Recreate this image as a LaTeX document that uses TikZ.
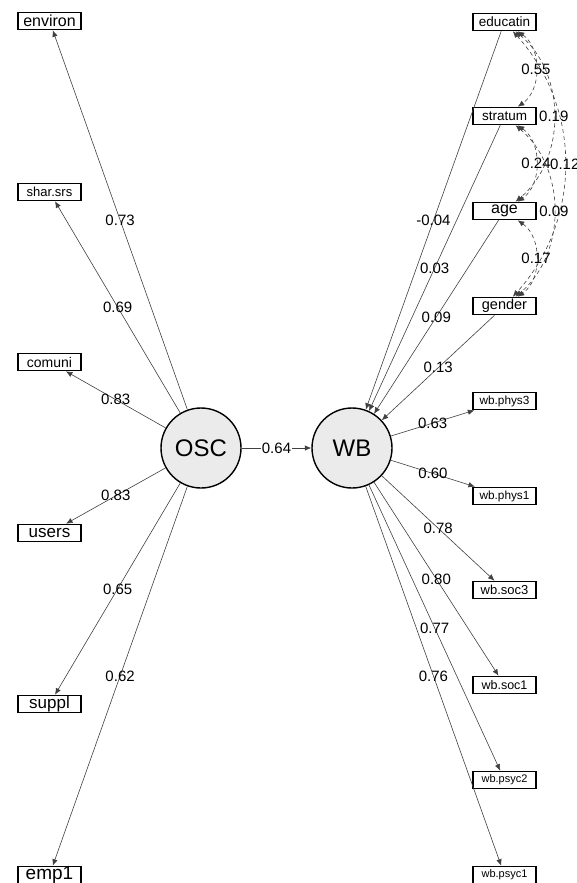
\documentclass[tikz,border=0pt]{standalone}
\usepackage{fontspec}
\setmainfont{Liberation Sans}
\usetikzlibrary{arrows.meta}
\newcommand\labsize[1]{\fontsize{#1}{#1}\selectfont}

\begin{document}
\begin{tikzpicture}[x=1pt, y=-1pt,
  manifest/.style={draw, line width=1.6pt, fill=white, minimum width=63pt, minimum height=17pt, inner sep=0pt},
  latent/.style={circle, draw, line width=1.4pt, fill=black!8, minimum size=80pt, inner sep=0pt, font=\labsize{24}},
  load/.style={draw=black!75, line width=0.6pt, -{Latex[length=6.5pt,width=5.5pt]}},
  cov/.style={draw=black!75, line width=0.6pt, dash pattern=on 4pt off 3pt, {Latex[length=6.5pt,width=5.5pt]}-{Latex[length=6.5pt,width=5.5pt]}},
  est/.style={font=\labsize{15}, inner sep=1pt},
]
\useasboundingbox (0,0) rectangle (577,883);

% Latent variables
\node[latent] (OSC) at (201,448) {OSC};
\node[latent] (WB) at (352,448) {WB};

% OSC indicators (left column)
\node[manifest, font=\labsize{16}] (environ) at (49.5,21) {environ};
\node[manifest, font=\labsize{13}] (sharsrs) at (49.5,192) {shar.srs};
\node[manifest, font=\labsize{14}] (comuni) at (49.5,362) {comuni};
\node[manifest, font=\labsize{17}] (users) at (49.5,533) {users};
\node[manifest, font=\labsize{17}] (suppl) at (49.5,704) {suppl};
\node[manifest, font=\labsize{19}] (emp1) at (49.5,875) {emp1};

% Covariates (right column, top)
\node[manifest, font=\labsize{13.5}] (educatin) at (504.5,22) {educatin};
\node[manifest, font=\labsize{13.5}] (stratum) at (504.5,116) {stratum};
\node[manifest, font=\labsize{16}] (age) at (504.5,211) {age};
\node[manifest, font=\labsize{14.5}] (gender) at (504.5,306) {gender};

% WB indicators (right column, bottom)
\node[manifest, font=\labsize{11.8}] (phys3) at (504.5,401) {wb.phys3};
\node[manifest, font=\labsize{11.8}] (phys1) at (504.5,496) {wb.phys1};
\node[manifest, font=\labsize{13}] (soc3) at (504.5,590) {wb.soc3};
\node[manifest, font=\labsize{12.5}] (soc1) at (504.5,685) {wb.soc1};
\node[manifest, font=\labsize{11}] (psyc2) at (504.5,780) {wb.psyc2};
\node[manifest, font=\labsize{11}] (psyc1) at (504.5,875) {wb.psyc1};

% Loadings of OSC
\draw[load] (OSC) -- node[est] {0.73} (environ);
\draw[load] (OSC) -- node[est] {0.69} (sharsrs);
\draw[load] (OSC) -- node[est] {0.83} (comuni);
\draw[load] (OSC) -- node[est] {0.83} (users);
\draw[load] (OSC) -- node[est] {0.65} (suppl);
\draw[load] (OSC) -- node[est] {0.62} (emp1);

% Structural path
\draw[load] (OSC) -- node[est, fill=white] {0.64} (WB);

% Covariates on WB
\draw[load] (educatin) -- node[est] {-0.04} (WB);
\draw[load] (stratum) -- node[est] {0.03} (WB);
\draw[load] (age) -- node[est] {0.09} (WB);
\draw[load] (gender) -- node[est] {0.13} (WB);

% Loadings of WB
\draw[load] (WB) -- node[est] {0.63} (phys3);
\draw[load] (WB) -- node[est] {0.60} (phys1);
\draw[load] (WB) -- node[est] {0.78} (soc3);
\draw[load] (WB) -- node[est] {0.80} (soc1);
\draw[load] (WB) -- node[est] {0.77} (psyc2);
\draw[load] (WB) -- node[est] {0.76} (psyc1);

% Covariances among covariates
\draw[cov] (educatin) to[bend left=55] node[est] {0.55} (stratum);
\draw[cov] (educatin) to[bend left=50] node[est] {0.19} (age);
\draw[cov] (educatin) to[bend left=42] node[est] {0.12} (gender);
\draw[cov] (stratum) to[bend left=55] node[est] {0.24} (age);
\draw[cov] (stratum) to[bend left=50] node[est] {0.09} (gender);
\draw[cov] (age) to[bend left=55] node[est] {0.17} (gender);
\end{tikzpicture}
\end{document}
